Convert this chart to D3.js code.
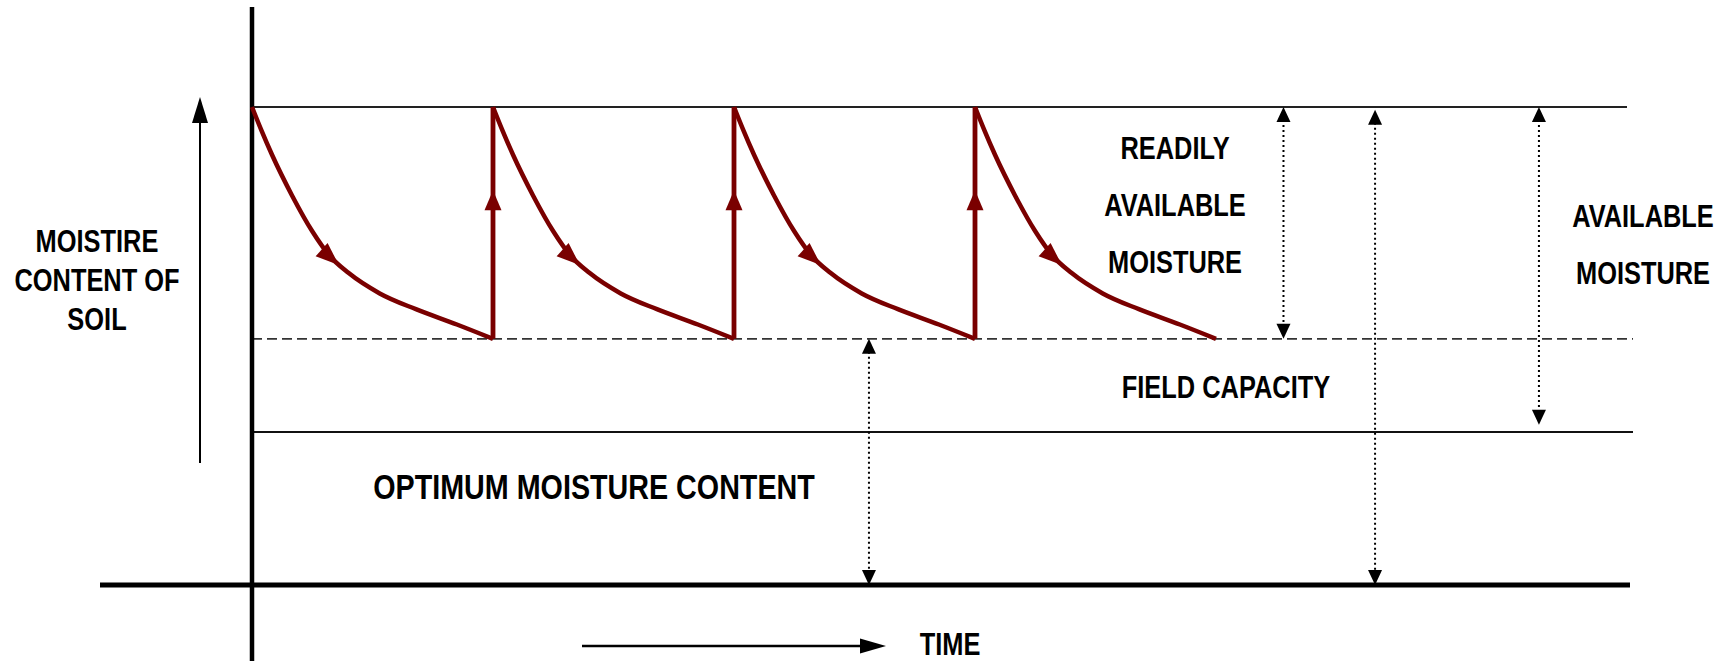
<!DOCTYPE html>
<html>
<head>
<meta charset="utf-8">
<title>Soil moisture cycles</title>
<style>
  body { margin: 0; background: #fff; }
  svg text {
    font-family: "Liberation Sans Narrow", "Arial Narrow", "Liberation Sans", Arial, sans-serif;
    font-weight: bold;
    fill: #000;
  }
</style>
</head>
<body>
<svg id="chart" width="1731" height="661"></svg>
<script src="https://d3js.org/d3.v7.min.js"></script>
<script>
// time in irrigation intervals, moisture in % of the top level
const cycleStarts = [0, 1, 2, 3];
const irrigationTimes = [1, 2, 3];
// drying curve of one interval: [fraction of interval, moisture]
const decayProfile = [
  [0, 100], [0.04, 95], [0.083, 90], [0.166, 81.5], [0.25, 74], [0.32, 69],
  [0.40, 65.3], [0.53, 61], [0.68, 57.7], [0.85, 54.5], [1, 51.5]
];
const levelNames = ["top", "field", "lower", "base"];
const levelValues = [100, 51.5, 32, 0];

const yLabelLines = ["MOISTIRE", "CONTENT OF", "SOIL"];
const readilyLines = ["READILY", "AVAILABLE", "MOISTURE"];
const availableLines = ["AVAILABLE", "MOISTURE"];
const fieldLabel = "FIELD CAPACITY";
const optimumLabel = "OPTIMUM MOISTURE CONTENT";
const timeLabel = "TIME";

const level = name => levelValues[levelNames.indexOf(name)];

const svg = d3.select('#chart');
const x = d3.scaleLinear().domain([0, 4]).range([252, 1216]);
const y = d3.scaleLinear().domain([0, 100]).range([585, 107]);

const RED = '#7a0000';

// triangle with tip at (tx,ty) pointing along (dx,dy)
function tri(tx, ty, dx, dy, len, half) {
  const n = Math.hypot(dx, dy); dx /= n; dy /= n;
  const bx = tx - dx * len, by = ty - dy * len;
  return `M${tx},${ty}L${bx - dy * half},${by + dx * half}L${bx + dy * half},${by - dx * half}Z`;
}

// reference levels
svg.append('line')
  .attr('x1', x(0)).attr('x2', 1627)
  .attr('y1', y(level('top'))).attr('y2', y(level('top')))
  .attr('stroke', '#222').attr('stroke-width', 2);
svg.append('line')
  .attr('x1', x(0)).attr('x2', 1633)
  .attr('y1', y(level('field'))).attr('y2', y(level('field')))
  .attr('stroke', '#333').attr('stroke-width', 1.6)
  .attr('stroke-dasharray', '10,5');
svg.append('line')
  .attr('x1', x(0)).attr('x2', 1633)
  .attr('y1', y(level('lower'))).attr('y2', y(level('lower')))
  .attr('stroke', '#111').attr('stroke-width', 2);

// axes
svg.append('line')
  .attr('x1', 100).attr('x2', 1630)
  .attr('y1', y(0)).attr('y2', y(0))
  .attr('stroke', '#000').attr('stroke-width', 5);
svg.append('line')
  .attr('x1', x(0)).attr('x2', x(0))
  .attr('y1', 7).attr('y2', 661)
  .attr('stroke', '#000').attr('stroke-width', 4.5);

// drying curves
const line = d3.line()
  .x(d => x(d[0]))
  .y(d => y(d[1]))
  .curve(d3.curveMonotoneX);

cycleStarts.forEach(s => {
  const pts = decayProfile.map(([f, m]) => [s + f, m]);
  const path = svg.append('path')
    .attr('d', line(pts))
    .attr('fill', 'none')
    .attr('stroke', RED)
    .attr('stroke-width', 4.5);

  // arrow head part way down the curve
  const node = path.node();
  const total = node.getTotalLength();
  const target = x(s + 0.36);
  let lo = 0, hi = total;
  for (let i = 0; i < 30; i++) {
    const mid = (lo + hi) / 2;
    if (node.getPointAtLength(mid).x < target) lo = mid; else hi = mid;
  }
  const p = node.getPointAtLength(lo);
  const q = node.getPointAtLength(lo - 2);
  svg.append('path')
    .attr('d', tri(p.x, p.y, p.x - q.x, p.y - q.y, 23, 9))
    .attr('fill', RED);
});

// irrigation: moisture jumps back to the top
irrigationTimes.forEach(t => {
  svg.append('line')
    .attr('x1', x(t)).attr('x2', x(t))
    .attr('y1', y(level('field'))).attr('y2', y(level('top')))
    .attr('stroke', RED).attr('stroke-width', 4.8);
  svg.append('path')
    .attr('d', tri(x(t), y(82.6), 0, -1, 20, 8.5))
    .attr('fill', RED);
});

// dotted range arrows
function rangeArrow(t, from, to) {
  const xa = x(t), y1 = y(from), y2 = y(to);
  svg.append('line')
    .attr('x1', xa).attr('x2', xa)
    .attr('y1', y1 + 8).attr('y2', y2 - 8)
    .attr('stroke', '#000').attr('stroke-width', 2)
    .attr('stroke-dasharray', '2,3');
  svg.append('path').attr('d', tri(xa, y1, 0, -1, 15, 7)).attr('fill', '#000');
  svg.append('path').attr('d', tri(xa, y2, 0, 1, 15, 7)).attr('fill', '#000');
}
rangeArrow(4.28, 100, level('field'));
rangeArrow(4.66, 99.4, 0);
rangeArrow(5.34, 100, 33.5);
rangeArrow(2.56, level('field'), 0);

// side arrows
svg.append('line')
  .attr('x1', 200).attr('x2', 200).attr('y1', 463).attr('y2', 120)
  .attr('stroke', '#000').attr('stroke-width', 2);
svg.append('path').attr('d', tri(200, 97, 0, -1, 26, 8)).attr('fill', '#000');

svg.append('line')
  .attr('x1', 582).attr('x2', 865).attr('y1', 646).attr('y2', 646)
  .attr('stroke', '#000').attr('stroke-width', 2.5);
svg.append('path').attr('d', tri(886, 646, 1, 0, 26, 7.5)).attr('fill', '#000');

// labels: narrow bold lettering; squeeze horizontally if no narrow face is installed
const probe = svg.append('text').attr('font-size', 100).text('MOISTIRE');
const probeW = probe.node().getComputedTextLength();
probe.remove();
const squeeze = probeW > 440 ? 0.82 : 1;

function block(lines, cx, y0, dy, size) {
  svg.append('g').selectAll('text')
    .data(lines)
    .join('text')
    .attr('transform', (d, i) => `translate(${cx},${y0 + i * dy}) scale(${squeeze},1)`)
    .attr('text-anchor', 'middle')
    .attr('font-size', size)
    .text(d => d);
}
block(yLabelLines, 97, 252, 39, 31);
block(readilyLines, 1175, 159, 57, 31);
block(availableLines, 1643, 227, 57, 31);
block([fieldLabel], 1226, 398, 0, 31);
block([optimumLabel], 594, 499, 0, 35);
block([timeLabel], 950, 655, 0, 31);
</script>
</body>
</html>
